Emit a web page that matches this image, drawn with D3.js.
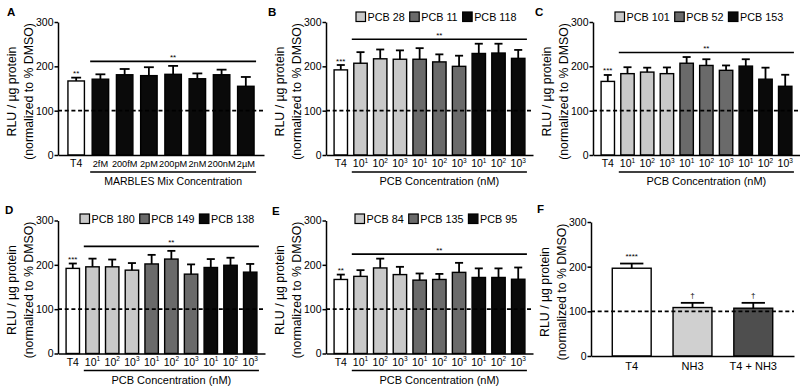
<!DOCTYPE html>
<html><head><meta charset="utf-8">
<script src="https://cdn.jsdelivr.net/npm/d3@7"></script>
<style>
body{margin:0;background:#fff}
svg text{font-family:"Liberation Sans",Arial,Helvetica,sans-serif;fill:#000}
</style>
</head><body>
<svg id="chart" width="800" height="387"></svg>
<script>
// ---------- data ----------
const yTicks = [0, 100, 200, 300];
const pcbTicks = ["T4","10^1","10^2","10^3","10^1","10^2","10^3","10^1","10^2","10^3"];

const aLabels = ["T4","2fM","200fM","2pM","200pM","2nM","200nM","2µM"];
const aMeans  = [167,171,181,179,182,172,181,155];
const aSem    = [7.5,11,13,19,19,12,11.5,21];

const bSeries = ["PCB 28","PCB 11","PCB 118"];
const bMeans  = [192,207,217,216,216,210,200,229,230,218];
const bSem    = [11,25,21,20,25,17,24,22,21,19];

const cSeries = ["PCB 101","PCB 52","PCB 153"];
const cMeans  = [166,183.5,187,183.5,207,202,191,200.5,171,155];
const cSem    = [14.5,14.5,10,14,14,14,11,15.5,26,26];

const dSeries = ["PCB 180","PCB 149","PCB 138"];
const dMeans  = [192,195.5,195.5,188,202,213,179,194,199,183.5];
const dSem    = [11,18.5,16.5,16,20.5,18.5,22,19,17,18.5];

const eSeries = ["PCB 84","PCB 135","PCB 95"];
const eMeans  = [167,174,193,178,165.5,167,183,171.5,171.5,167.5];
const eSem    = [11,14,21,17.5,15,12.5,21.5,20.5,20.5,26.5];

const fLabels = ["T4","NH3","T4 + NH3"];
const fMeans  = [196.5,108.5,107];
const fSem    = [10.5,10.5,12];
const fStars  = ["****","†","†"];

const t4Stars = {A:"**", B:"***", C:"***", D:"***", E:"**"};
const groupStar = "**";
const yTitle1 = "RLU / µg protein";
const yTitle2 = "(normalized to % DMSO)";

// ---------- drawing ----------
const svg = d3.select("#chart");
const LIGHT = "#c9c9c9", DARK = "#6a6a6a", BLACK = "#0a0a0a";
const FONT = '"Liberation Sans",Arial,sans-serif';

function drawPanel(p){
  const g = svg.append("g");
  const n = p.means.length;
  const y = d3.scaleLinear().domain([0,300]).range([p.y0, p.yTop]);
  const x = d3.scaleBand().domain(d3.range(n)).range([p.x0, p.x0 + p.width])
              .paddingInner(p.pi).paddingOuter(p.po);
  const bw = x.bandwidth();

  g.append("text").attr("x", p.lx).attr("y", p.ly).attr("font-size", 11.5)
    .attr("font-weight", "bold").text(p.letter);

  const cy = (p.y0 + p.yTop)/2 + 3;
  [[yTitle1, p.x0 - 42],[yTitle2, p.x0 - 25]].forEach(([t, xx]) => {
    g.append("text").attr("transform", `translate(${xx},${cy}) rotate(-90)`)
      .attr("text-anchor","middle").attr("font-size", 12.3).text(t);
  });

  g.selectAll("rect.bar").data(p.means).join("rect").attr("class","bar")
    .attr("x", (d,i) => x(i)).attr("y", d => y(d))
    .attr("width", bw).attr("height", d => p.y0 - y(d))
    .attr("fill", (d,i) => p.fills[i]).attr("stroke", "#000").attr("stroke-width", 1.4);

  const eg = g.append("g").attr("stroke","#000").attr("stroke-width",1.8);
  p.means.forEach((m,i) => {
    const cx = x(i) + bw/2, tp = y(m + p.sem[i]);
    eg.append("line").attr("x1",cx).attr("x2",cx).attr("y1",y(m)).attr("y2",tp);
    eg.append("line").attr("x1",cx - bw*0.3).attr("x2",cx + bw*0.3).attr("y1",tp).attr("y2",tp);
  });

  g.append("line").attr("x1", p.x0).attr("x2", p.x0 + p.width)
    .attr("y1", y(100)).attr("y2", y(100)).attr("stroke","#000")
    .attr("stroke-width",1.8).attr("stroke-dasharray","4,2.7");

  const ya = g.append("g").attr("transform",`translate(${p.x0},0)`)
    .call(d3.axisLeft(y).tickValues(yTicks).tickSize(3.5).tickSizeOuter(0).tickPadding(1));
  ya.selectAll("path,line").attr("stroke","#000").attr("stroke-width",1.5);
  ya.selectAll("text").attr("font-size",10.5).attr("fill","#000").style("font-family",FONT);

  const xa = g.append("g").attr("transform",`translate(0,${p.y0})`)
    .call(d3.axisBottom(x).tickSize(0).tickSizeOuter(0).tickFormat(i => p.labels[i]));
  xa.select(".domain").attr("stroke","#000").attr("stroke-width",1.5);
  xa.selectAll("text").attr("dy",null).attr("y", p.tickY)
    .attr("font-size", i => (i === 0 && p.firstFs) ? p.firstFs : p.tickFs)
    .attr("fill","#000").style("font-family",FONT)
    .each(function(i){
      const lab = p.labels[i];
      if (lab.includes("^")){
        const [b, s] = lab.split("^");
        const t = d3.select(this); t.text(null);
        t.append("tspan").text(b);
        t.append("tspan").attr("dy",-4.5).attr("font-size",p.tickFs*0.62).text(s);
      }
    });

  if (p.stars){
    p.stars.forEach((s,i) => {
      if (!s) return;
      g.append("text").attr("x", x(i)+bw/2).attr("y", y(p.means[i]+p.sem[i]) - p.starGap)
        .attr("text-anchor","middle").attr("font-size", 8).text(s);
    });
  }
  if (p.group){
    const x1 = x(1) - 2, x2 = x(n-1) + bw + 2;
    const topVal = d3.max(p.means.slice(1).map((m,k) => m + p.sem[k+1]));
    const ly = y(topVal) - 4.5;
    g.append("line").attr("x1",x1).attr("x2",x2).attr("y1",ly).attr("y2",ly)
      .attr("stroke","#000").attr("stroke-width",1.6);
    g.append("text").attr("x",(x1+x2)/2).attr("y",ly - 1.5).attr("text-anchor","middle")
      .attr("font-size",8).text(groupStar);
    const uy = p.y0 + 17;
    g.append("line").attr("x1",x1).attr("x2",x2).attr("y1",uy).attr("y2",uy)
      .attr("stroke","#000").attr("stroke-width",1.6);
    g.append("text").attr("x",(x1+x2)/2).attr("y",p.y0 + 30).attr("text-anchor","middle")
      .attr("font-size",p.titleFs).text(p.xTitle);
  }

  if (p.series){
    let lx = p.legX;
    const fillsLeg = [LIGHT, DARK, BLACK];
    p.series.forEach((s,k) => {
      g.append("rect").attr("x",lx).attr("y",p.legY).attr("width",9.5).attr("height",9.5)
        .attr("fill",fillsLeg[k]).attr("stroke","#000").attr("stroke-width",1.2);
      const t = g.append("text").attr("x",lx + 11.5).attr("y",p.legY + 9.2)
        .attr("font-size",10.8).text(s);
      lx += 11.5 + t.node().getComputedTextLength() + 5;
    });
  }
}

const pcbFills = ["#fff",LIGHT,LIGHT,LIGHT,DARK,DARK,DARK,BLACK,BLACK,BLACK];
const topRow = {y0:155, yTop:22}, botRow = {y0:353.5, yTop:220.5};
const common = {width:207, pi:0.32, po:0.41, tickY:12, tickFs:10.5, group:true,
                xTitle:"PCB Concentration (nM)", titleFs:11, starGap:1.5};

drawPanel(Object.assign({}, common, topRow, {letter:"A", lx:7, ly:16, x0:58, width:206,
  labels:aLabels, means:aMeans, sem:aSem, tickFs:9.2, firstFs:10.5,
  fills:["#fff"].concat(aLabels.slice(1).map(() => BLACK)),
  stars:[t4Stars.A], xTitle:"MARBLES Mix Concentration", titleFs:10.5}));

drawPanel(Object.assign({}, common, topRow, {letter:"B", lx:268, ly:16, x0:326,
  labels:pcbTicks, means:bMeans, sem:bSem, fills:pcbFills, stars:[t4Stars.B],
  series:bSeries, legX:356, legY:12}));

drawPanel(Object.assign({}, common, topRow, {letter:"C", lx:535, ly:16, x0:593,
  labels:pcbTicks, means:cMeans, sem:cSem, fills:pcbFills, stars:[t4Stars.C],
  series:cSeries, legX:615, legY:12}));

drawPanel(Object.assign({}, common, botRow, {letter:"D", lx:5, ly:214, x0:58,
  labels:pcbTicks, means:dMeans, sem:dSem, fills:pcbFills, stars:[t4Stars.D],
  series:dSeries, legX:80, legY:214}));

drawPanel(Object.assign({}, common, botRow, {letter:"E", lx:272, ly:215, x0:326,
  labels:pcbTicks, means:eMeans, sem:eSem, fills:pcbFills, stars:[t4Stars.E],
  series:eSeries, legX:355, legY:214}));

drawPanel({letter:"F", lx:537, ly:213, x0:591, width:203, y0:356, yTop:222,
  pi:0.36, po:0.35, labels:fLabels, means:fMeans, sem:fSem, tickY:14, tickFs:11,
  fills:["#fff","#d0d0d0","#4e4e4e"], stars:fStars, starGap:5, group:false});
</script>
</body></html>
